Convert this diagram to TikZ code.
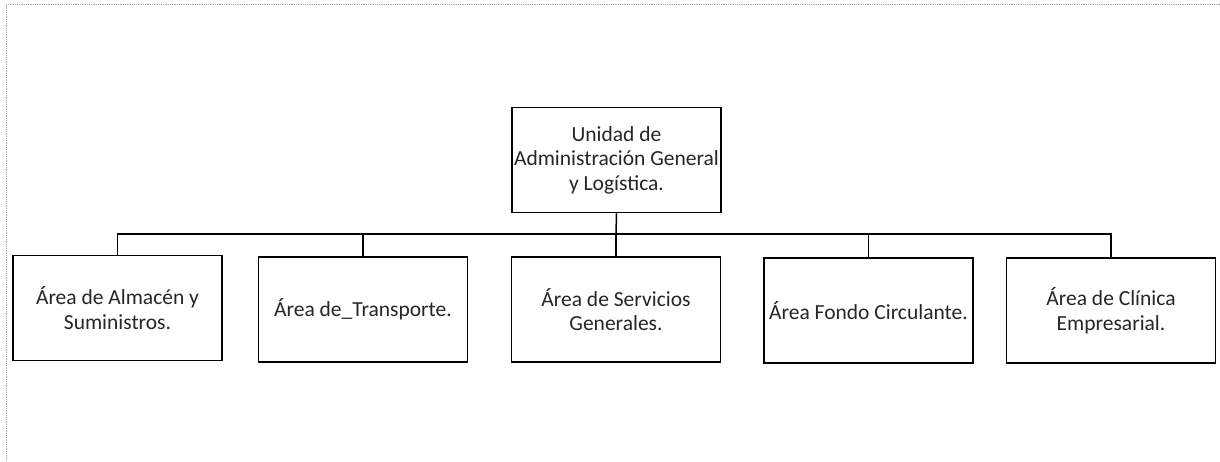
\documentclass[tikz,border=0pt]{standalone}
\usepackage{fontspec}
\setmainfont{Carlito}
\begin{document}
\begin{tikzpicture}[x=1pt,y=-1pt,
  orgbox/.style={draw=black,line width=1.5pt,minimum width=209pt,minimum height=105pt,align=center,inner sep=2pt,
    font=\fontsize{21.5}{24.5}\selectfont,text=black!85},
  link/.style={draw=black,line width=1.5pt},
  frame/.style={draw=black!35,line width=0.8pt,densely dotted}]
\useasboundingbox (0,0) rectangle (1220,461);
\fill[white] (0,0) rectangle (1220,461);
\draw[frame] (6,461) -- (6,4) -- (1220,4);
\node[orgbox] (top) at (616.5,160) {Unidad de\\Administración General\\y Logística.};
\node[orgbox] (a1) at (117.5,308) {Área de Almacén y\\Suministros.};
\node[orgbox] (a2) at (363,309.5) {Área de\_Transporte.};
\node[orgbox] (a3) at (616,309.5) {Área de Servicios\\Generales.};
\node[orgbox] (a4) at (868.5,310.5) {Área Fondo Circulante.};
\node[orgbox] (a5) at (1111,310.5) {Área de Clínica\\Empresarial.};
\coordinate (bus) at (616,234);
\draw[link] (top.south) -- (bus);
\draw[link] (a1.north) |- (bus) -| (a5.north);
\draw[link] (a2.north) -- (a2.north |- bus);
\draw[link] (a3.north) -- (a3.north |- bus);
\draw[link] (a4.north) -- (a4.north |- bus);
\end{tikzpicture}
\end{document}
